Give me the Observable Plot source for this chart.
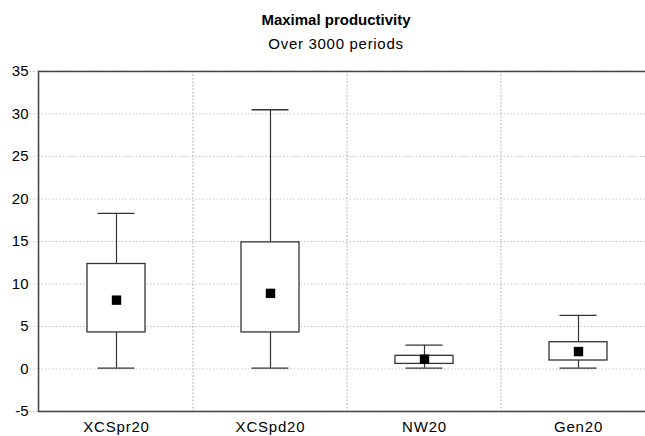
<!DOCTYPE html>
<html>
<head>
<meta charset="utf-8">
<script src="https://cdn.jsdelivr.net/npm/d3@7"></script>
<script src="https://cdn.jsdelivr.net/npm/@observablehq/plot@0.6"></script>
<style>
  html, body { margin: 0; padding: 0; background: #fff; overflow: hidden; }
  #wrap { position: relative; width: 645px; height: 436px; overflow: hidden; }
  .ttl { position: absolute; left: 186px; width: 300px; text-align: center; font-family: "Liberation Sans", Arial, sans-serif; color: #000; white-space: nowrap; font-size: 15px; line-height: 17px; }
  #title { top: 10.5px; font-weight: bold; }
  #subtitle { top: 34.5px; letter-spacing: 0.7px; }
  #chart { position: absolute; left: 0; top: 0; width: 660px; }
  #chart svg { max-width: none !important; width: 660px; height: 436px; }
</style>
</head>
<body>
<div id="wrap">
  <div id="chart"></div>
  <div id="title" class="ttl">Maximal productivity</div>
  <div id="subtitle" class="ttl">Over 3000 periods</div>
</div>
<script>
const categories   = ["XCSpr20", "XCSpd20", "NW20", "Gen20"];
const whiskerLow   = [0.1, 0.1, 0.1, 0.1];
const boxLow       = [4.3, 4.3, 0.6, 1.0];
const meanValue    = [8.1, 8.9, 1.15, 2.05];
const boxHigh      = [12.35, 14.9, 1.55, 3.15];
const whiskerHigh  = [18.3, 30.5, 2.8, 6.3];
const yTicks       = [-5, 0, 5, 10, 15, 20, 25, 30, 35];
const gridLines    = [0, 5, 10, 15, 20, 25, 30];

const data = categories.map((c, i) => ({
  cat: c, lo: whiskerLow[i], q1: boxLow[i], mean: meanValue[i], q3: boxHigh[i], hi: whiskerHigh[i]
}));

const dark = "#333";
const grid = "#c4c4c4";

const chart = Plot.plot({
  width: 660,
  height: 436,
  marginLeft: 38,
  marginRight: 4,
  marginTop: 71,
  marginBottom: 25,
  style: { fontFamily: "Liberation Sans, Arial, sans-serif", fontSize: "15px", color: "#000", background: "transparent" },
  x: { type: "band", domain: categories, padding: 0, label: null },
  y: { domain: [-5, 35], label: null },
  marks: [
    Plot.ruleY(gridLines, { stroke: grid, strokeDasharray: "1.5,2" }),
    Plot.barY(data, { x: "cat", y1: -5, y2: 35, fill: "none", stroke: grid, strokeDasharray: "1.5,2" }),
    Plot.ruleX(data, { x: "cat", y1: "lo", y2: "hi", stroke: dark, strokeWidth: 1.2 }),
    Plot.tickY(data, { x: "cat", y: "lo", insetLeft: 58.5, insetRight: 58.5, stroke: dark, strokeWidth: 1.3 }),
    Plot.tickY(data, { x: "cat", y: "hi", insetLeft: 58.5, insetRight: 58.5, stroke: dark, strokeWidth: 1.3 }),
    Plot.barY(data, { x: "cat", y1: "q1", y2: "q3", insetLeft: 48, insetRight: 48, fill: "white", stroke: dark, strokeWidth: 1.3 }),
    Plot.dot(data, { x: "cat", y: "mean", symbol: "square", r: 5.3, fill: "black", stroke: "none" }),
    Plot.frame({ stroke: "#444", strokeWidth: 1.5 }),
    Plot.axisY({ ticks: yTicks, tickFormat: d => String(d), tickSize: 8, tickPadding: 2, stroke: grid, strokeDasharray: "1.5,2", fill: "#000", fontSize: 15 }),
    Plot.axisX({ tickSize: 0, tickPadding: 10, fill: "#000", fontSize: 15 })
  ]
});
d3.select(chart).selectAll("g[aria-label='x-axis tick label'] text").style("letter-spacing", "0.8px");
document.getElementById("chart").appendChild(chart);
</script>
</body>
</html>
